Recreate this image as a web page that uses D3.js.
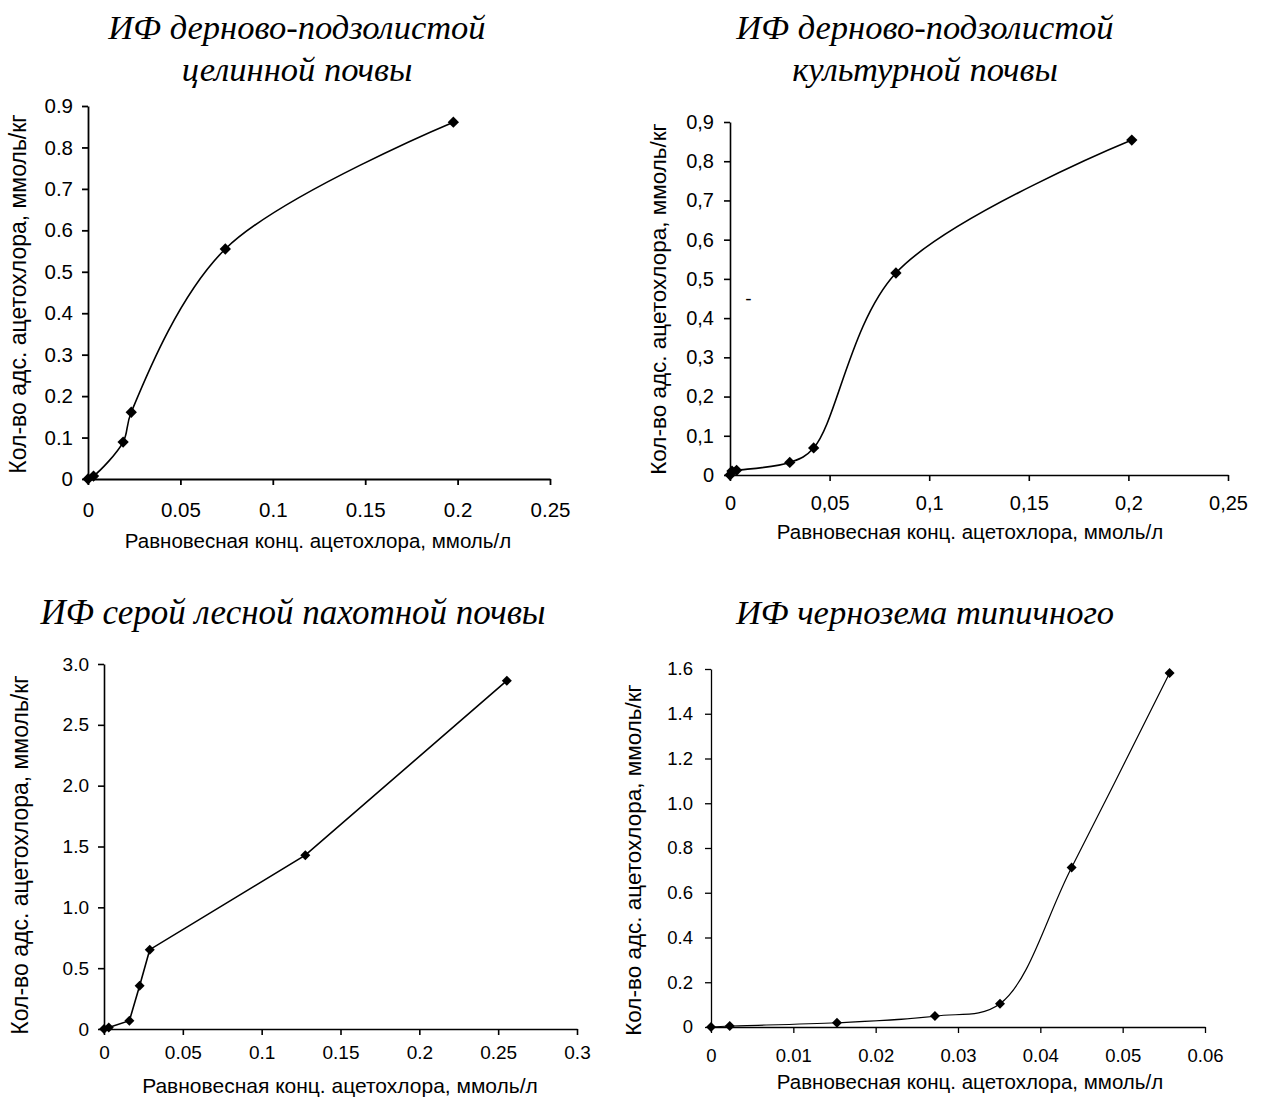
<!DOCTYPE html>
<html><head><meta charset="utf-8">
<script src="https://cdn.jsdelivr.net/npm/d3@7"></script>
<style>
body{margin:0;background:#fff;}
svg{display:block;}
.tick text{font-family:"Liberation Sans",Arial,sans-serif;fill:#000;}
</style></head>
<body><svg id="c" width="1262" height="1102"></svg>
<script>
// ---- Data ----
const chart1Title = ["ИФ дерново-подзолистой", "целинной почвы"];
const chart1X = [0, 0.003, 0.0190, 0.0234, 0.0743, 0.1977];
const chart1Y = [0, 0.007, 0.089, 0.161, 0.555, 0.861];
const chart1XTicks = ["0", "0.05", "0.1", "0.15", "0.2", "0.25"];
const chart1YTicks = ["0", "0.1", "0.2", "0.3", "0.4", "0.5", "0.6", "0.7", "0.8", "0.9"];

const chart2Title = ["ИФ дерново-подзолистой", "культурной почвы"];
const chart2X = [0, 0.001, 0.0033, 0.0300, 0.0420, 0.0833, 0.2017];
const chart2Y = [0, 0.010, 0.012, 0.032, 0.069, 0.515, 0.854];
const chart2XTicks = ["0", "0,05", "0,1", "0,15", "0,2", "0,25"];
const chart2YTicks = ["0", "0,1", "0,2", "0,3", "0,4", "0,5", "0,6", "0,7", "0,8", "0,9"];
const chart2Stray = [0.0093, 0.448];

const chart3Title = ["ИФ серой лесной пахотной почвы"];
const chart3X = [0, 0.0030, 0.0161, 0.0226, 0.0290, 0.1277, 0.2555];
const chart3Y = [0, 0.012, 0.068, 0.355, 0.652, 1.429, 2.863];
const chart3XTicks = ["0", "0.05", "0.1", "0.15", "0.2", "0.25", "0.3"];
const chart3YTicks = ["0", "0.5", "1.0", "1.5", "2.0", "2.5", "3.0"];

const chart4Title = ["ИФ чернозема типичного"];
const chart4X = [0, 0.00228, 0.0153, 0.0272, 0.0351, 0.0438, 0.0557];
const chart4Y = [0, 0.0045, 0.019, 0.049, 0.104, 0.713, 1.582];
const chart4XTicks = ["0", "0.01", "0.02", "0.03", "0.04", "0.05", "0.06"];
const chart4YTicks = ["0", "0.2", "0.4", "0.6", "0.8", "1.0", "1.2", "1.4", "1.6"];

const xTitle = "Равновесная конц. ацетохлора, ммоль/л";
const yTitle = "Кол-во адс. ацетохлора, ммоль/кг";

const svg = d3.select("#c");
const parse = s => +s.replace(",", ".");

function drawChart(o) {
  const xVals = o.xTicks.map(parse), yVals = o.yTicks.map(parse);
  const x = d3.scaleLinear().domain([0, d3.max(xVals)]).range([o.x0, o.x1]);
  const y = d3.scaleLinear().domain([0, d3.max(yVals)]).range([o.y0, o.y1]);
  const g = svg.append("g");

  // title
  o.title.forEach((t, i) => {
    g.append("text").attr("x", o.tx).attr("y", o.ty + i * 42)
      .attr("text-anchor", "middle")
      .attr("font-family", "'Liberation Serif','Times New Roman',serif")
      .attr("font-style", "italic").attr("font-size", o.titleFont).text(t);
  });

  const xa = g.append("g").attr("transform", `translate(0,${o.y0})`)
    .call(d3.axisBottom(x).tickValues(xVals).tickFormat((d, i) => o.xTicks[i])
      .tickSizeInner(6).tickSizeOuter(0).tickPadding(o.xPad));
  const ya = g.append("g").attr("transform", `translate(${o.x0},0)`)
    .call(d3.axisLeft(y).tickValues(yVals).tickFormat((d, i) => o.yTicks[i])
      .tickSizeInner(6).tickSizeOuter(0).tickPadding(o.yPad));
  [xa, ya].forEach(a => {
    a.selectAll("path,line").attr("stroke", "#000").attr("stroke-width", o.aw);
    a.selectAll("text").attr("font-size", o.tickFont);
  });

  g.append("text").attr("x", o.xtx).attr("y", o.xty).attr("text-anchor", "middle")
    .attr("font-family", "'Liberation Sans',Arial,sans-serif").attr("font-size", o.xtFont)
    .text(xTitle);
  g.append("text").attr("transform", `translate(${o.ytx},${o.yty}) rotate(-90)`)
    .attr("text-anchor", "middle")
    .attr("font-family", "'Liberation Sans',Arial,sans-serif").attr("font-size", o.ytFont)
    .text(yTitle);

  const pts = o.xs.map((v, i) => [v, o.ys[i]]);
  const line = d3.line().x(d => x(d[0])).y(d => y(d[1])).curve(o.curve);
  g.append("path").datum(pts).attr("d", line).attr("fill", "none")
    .attr("stroke", "#000").attr("stroke-width", o.lw);
  g.selectAll(".m").data(pts).join("path")
    .attr("d", d3.symbol().type(d3.symbolSquare).size(o.ms))
    .attr("transform", d => `translate(${x(d[0])},${y(d[1])}) rotate(45)`)
    .attr("fill", "#000");
  if (o.stray) {
    g.append("text").attr("x", x(o.stray[0])).attr("y", y(o.stray[1]) + 6)
      .attr("text-anchor", "middle").attr("font-family", "'Liberation Sans',Arial,sans-serif")
      .attr("font-size", 19).text("-");
  }
}

drawChart({title: chart1Title, xs: chart1X, ys: chart1Y, xTicks: chart1XTicks, yTicks: chart1YTicks,
  x0: 88, x1: 550, y0: 479, y1: 106, tx: 297, ty: 39, titleFont: 34.5, xPad: 17, yPad: 9, tickFont: 20.5,
  xtx: 318, xty: 548, xtFont: 20.5, ytx: 26, yty: 294, ytFont: 23,
  curve: d3.curveCatmullRom.alpha(0.5), lw: 1.6, aw: 1.8, ms: 64});

drawChart({title: chart2Title, xs: chart2X, ys: chart2Y, xTicks: chart2XTicks, yTicks: chart2YTicks,
  x0: 730, x1: 1228, y0: 475, y1: 122, tx: 925, ty: 39, titleFont: 34.5, xPad: 15, yPad: 10, tickFont: 20,
  xtx: 970, xty: 539, xtFont: 20.5, ytx: 666, yty: 299, ytFont: 22.5, stray: chart2Stray,
  curve: d3.curveCatmullRom.alpha(0.5), lw: 1.6, aw: 1.6, ms: 64});

drawChart({title: chart3Title, xs: chart3X, ys: chart3Y, xTicks: chart3XTicks, yTicks: chart3YTicks,
  x0: 104, x1: 577, y0: 1029, y1: 664, tx: 293, ty: 624, titleFont: 35, xPad: 11, yPad: 9, tickFont: 19,
  xtx: 340, xty: 1093, xtFont: 21, ytx: 28, yty: 855, ytFont: 23,
  curve: d3.curveLinear, lw: 1.6, aw: 1.6, ms: 50});

drawChart({title: chart4Title, xs: chart4X, ys: chart4Y, xTicks: chart4XTicks, yTicks: chart4YTicks,
  x0: 711, x1: 1205, y0: 1027, y1: 669, tx: 925, ty: 624, titleFont: 34.5, xPad: 16, yPad: 12, tickFont: 18.5,
  xtx: 970, xty: 1089, xtFont: 20.5, ytx: 641, yty: 860, ytFont: 22.5,
  curve: d3.curveCatmullRom.alpha(0.5), lw: 1.2, aw: 1.3, ms: 50});
</script></body></html>
